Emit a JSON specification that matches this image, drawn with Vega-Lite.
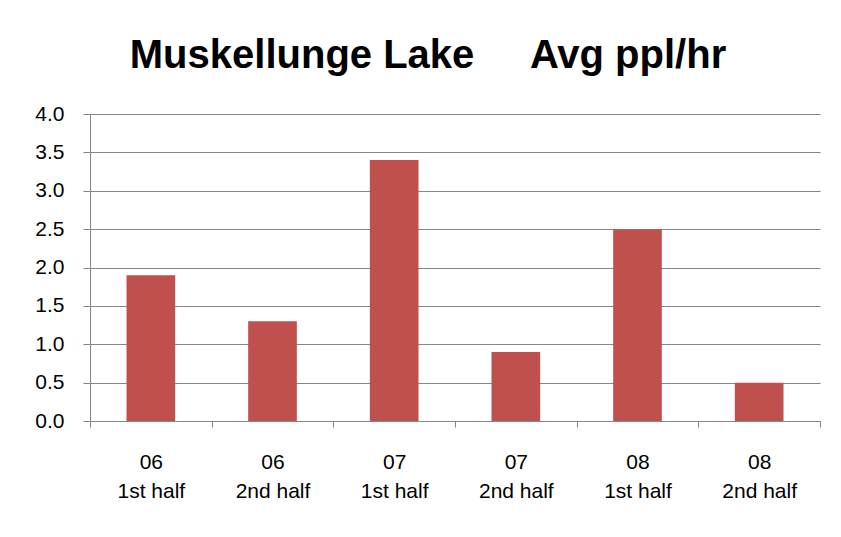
{
  "$schema": "https://vega.github.io/schema/vega-lite/v6.json",
  "width": 730,
  "height": 307,
  "padding": {"left": 34, "top": 36, "right": 21, "bottom": 10},
  "background": "white",
  "title": {
    "text": "Muskellunge Lake\u00a0\u00a0\u00a0\u00a0\u00a0Avg ppl/hr",
    "font": "Liberation Sans",
    "fontWeight": "bold",
    "fontSize": 40,
    "color": "black",
    "anchor": "middle",
    "dx": -27,
    "offset": 27
  },
  "data": {
    "values": [
      {"period": "06 1st half", "value": 1.9},
      {"period": "06 2nd half", "value": 1.3},
      {"period": "07 1st half", "value": 3.4},
      {"period": "07 2nd half", "value": 0.9},
      {"period": "08 1st half", "value": 2.5},
      {"period": "08 2nd half", "value": 0.5}
    ]
  },
  "mark": {"type": "bar", "color": "#C0504D", "width": {"band": 0.4}},
  "encoding": {
    "x": {
      "field": "period",
      "type": "nominal",
      "sort": null,
      "scale": {"paddingInner": 0, "paddingOuter": 0},
      "axis": {
        "title": null,
        "labelAngle": 0,
        "labelExpr": "datum.value ? [substring(datum.value,0,2), substring(datum.value,3)] : ''",
        "labelFont": "Liberation Sans",
        "labelFontSize": 21,
        "labelColor": "black",
        "labelLineHeight": 29,
        "labelPadding": 24,
        "tickBand": "extent",
        "tickSize": 6,
        "tickColor": "#868686",
        "domainColor": "#868686",
        "grid": false
      }
    },
    "y": {
      "field": "value",
      "type": "quantitative",
      "scale": {"domain": [0, 4], "nice": false},
      "axis": {
        "title": null,
        "values": [0, 0.5, 1, 1.5, 2, 2.5, 3, 3.5, 4],
        "format": ".1f",
        "labelFont": "Liberation Sans",
        "labelFontSize": 21,
        "labelColor": "black",
        "labelPadding": 19,
        "tickSize": 7,
        "tickColor": "#868686",
        "domainColor": "#868686",
        "gridColor": "#868686",
        "gridOpacity": 1,
        "minExtent": 50,
        "maxExtent": 50
      }
    }
  },
  "config": {"view": {"stroke": null}}
}
